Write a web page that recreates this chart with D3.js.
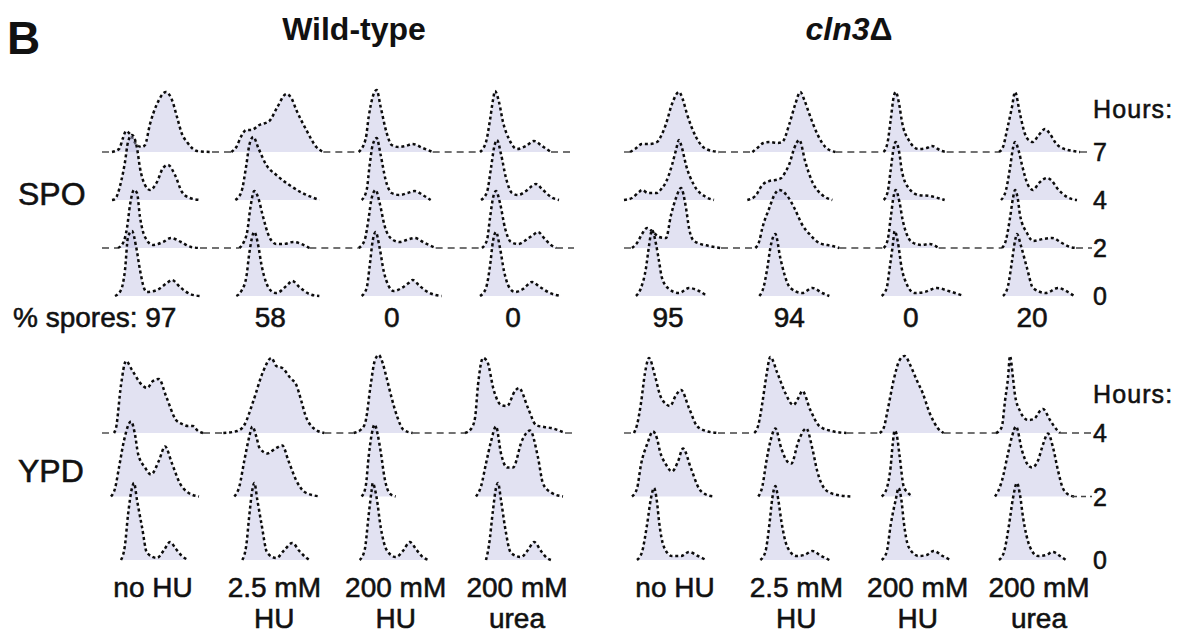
<!DOCTYPE html>
<html><head><meta charset="utf-8">
<script src="https://cdn.jsdelivr.net/npm/d3@7"></script>
<style>
html,body{margin:0;padding:0;background:#fff;}
svg text{font-family:"Liberation Sans",Arial,Helvetica,sans-serif;fill:#111;}
svg text.reg{stroke:#111;stroke-width:0.55px;}
</style></head>
<body>
<svg id="fig" width="1179" height="634"></svg>
<script>
// ---------------- data ----------------
const strains = ["Wild-type", "cln3Δ"];
const conditions = ["no HU", "2.5 mM HU", "200 mM HU", "200 mM urea"];
const conditionLines = [["no HU"], ["2.5 mM", "HU"], ["200 mM", "HU"], ["200 mM", "urea"]];
const spoHours = [7, 4, 2, 0];
const ypdHours = [4, 2, 0];
const sporesWT = [97, 58, 0, 0];
const sporesCln3 = [95, 94, 0, 20];

// histograms: [condition][hour row] -> [channel offset from 1C, cell count]
const spoWT = [
 [
  [[-20,0],[-13,3],[-9,14],[-6,21],[-2,18],[4,8],[10,5],[13,7],[18,28],[25,48],[34,60],[40,52],[45,35],[50,18],[55,10],[60,4],[65,1],[80,0]],
  [[-20,0],[-17,1],[-11,18],[-7,38],[-4,58],[0,65],[5,52],[8,32],[13,15],[18,10],[25,18],[31,32],[36,35],[43,25],[50,8],[58,2],[68,0]],
  [[-14,0],[-9,5],[-5,20],[-2,43],[2,58],[5,55],[8,31],[13,11],[21,3],[31,6],[39,10],[49,6],[59,1],[68,0]],
  [[-17,0],[-11,6],[-7,26],[-4,59],[0,65],[4,50],[8,26],[12,8],[15,4],[25,6],[35,13],[40,16],[48,9],[58,2],[68,0]]
 ],
 [
  [[-22,0],[-17,5],[-12,16],[-7,22],[-2,22],[6,27],[16,31],[24,45],[33,58],[38,54],[43,42],[53,22],[63,5],[70,0]],
  [[-18,0],[-12,8],[-7,35],[-4,55],[0,63],[5,52],[13,35],[23,25],[36,15],[49,7],[58,3],[66,0]],
  [[-14,0],[-10,5],[-6,17],[-3,40],[1,57],[5,50],[9,34],[16,11],[23,4],[30,4],[40,6],[48,4],[56,0]],
  [[-17,0],[-12,5],[-7,19],[-4,43],[1,64],[5,50],[8,32],[13,13],[18,5],[23,3],[33,10],[39,15],[46,9],[56,2],[66,0]]
 ],
 [
  [[-16,0],[-9,13],[-6,35],[-2,55],[2,62],[6,45],[12,19],[17,7],[24,5],[31,6],[38,8],[48,4],[58,0]],
  [[-13,0],[-8,10],[-5,35],[-2,55],[2,62],[6,45],[11,20],[17,7],[25,5],[33,7],[40,9],[48,5],[56,0]],
  [[-16,0],[-10,8],[-6,30],[-3,50],[1,58],[5,45],[10,22],[17,9],[25,6],[32,8],[40,10],[50,5],[61,0]],
  [[-13,0],[-8,8],[-5,30],[-2,55],[1,64],[5,48],[9,25],[14,10],[19,5],[27,8],[34,13],[38,16],[45,10],[55,3],[67,0]]
 ],
 [
  [[-16,0],[-10,10],[-6,32],[-3,52],[-1,61],[3,50],[7,30],[13,13],[21,3],[30,6],[38,11],[46,6],[55,0]],
  [[-15,0],[-9,8],[-5,32],[-2,52],[1,60],[5,46],[10,22],[16,7],[22,5],[30,9],[36,14],[40,16],[46,11],[55,3],[63,0]],
  [[-14,0],[-9,8],[-6,30],[-3,50],[0,57],[4,45],[9,20],[15,6],[22,4],[30,8],[37,13],[42,16],[48,10],[55,3],[60,0]],
  [[-16,0],[-10,8],[-6,30],[-3,55],[0,64],[4,48],[8,25],[13,9],[19,4],[27,7],[36,14],[44,9],[54,3],[65,0]]
 ]
];
const spoCln3 = [
 [
  [[-24,0],[-19,3],[-12,8],[-5,8],[3,10],[8,18],[12,28],[18,48],[25,60],[29,52],[33,38],[42,15],[52,3],[65,0]],
  [[-30,0],[-22,2],[-15,8],[-12,10],[-6,7],[3,7],[8,12],[12,18],[18,35],[22,50],[25,60],[28,52],[32,35],[40,15],[52,3],[60,0]],
  [[-22,0],[-17,5],[-12,14],[-7,20],[-2,17],[5,11],[12,10],[17,33],[22,50],[27,60],[32,40],[35,20],[40,7],[55,2],[67,0]],
  [[-18,0],[-13,8],[-8,28],[-5,50],[-2,66],[2,52],[5,35],[8,18],[15,7],[25,3],[35,8],[45,5],[53,0]]
 ],
 [
  [[-23,0],[-18,4],[-12,9],[-6,10],[2,9],[7,10],[14,28],[20,48],[25,60],[29,52],[34,38],[42,18],[50,5],[60,0]],
  [[-28,0],[-20,4],[-13,15],[-6,19],[0,20],[6,22],[10,28],[14,36],[19,52],[24,60],[30,38],[37,18],[47,5],[57,0]],
  [[-20,0],[-16,7],[-13,20],[-6,40],[-1,53],[4,58],[12,52],[19,40],[27,23],[35,13],[44,5],[57,2],[64,0]],
  [[-16,0],[-12,8],[-8,28],[-5,48],[0,62],[5,38],[9,22],[15,8],[27,3],[37,8],[47,3],[54,0]]
 ],
 [
  [[-13,0],[-9,10],[-6,32],[-3,55],[-1,60],[3,45],[5,32],[12,12],[22,3],[30,4],[35,6],[45,1],[50,0]],
  [[-13,0],[-9,8],[-6,30],[-3,52],[-1,58],[3,45],[5,30],[12,12],[22,5],[33,4],[48,0]],
  [[-13,0],[-9,8],[-6,30],[-3,52],[-1,58],[3,45],[6,28],[10,14],[15,6],[25,3],[33,4],[42,0]],
  [[-15,0],[-10,8],[-7,28],[-4,50],[-2,65],[1,55],[5,28],[10,12],[18,3],[28,4],[40,8],[52,5],[67,0]]
 ],
 [
  [[-19,0],[-15,5],[-11,22],[-6,45],[-3,60],[2,38],[7,18],[12,11],[15,10],[20,16],[27,23],[32,18],[37,10],[42,5],[55,1],[62,0]],
  [[-17,0],[-12,10],[-8,32],[-5,52],[-3,58],[1,48],[4,35],[10,15],[15,10],[21,17],[29,22],[34,19],[39,12],[49,3],[59,0]],
  [[-16,0],[-12,8],[-8,30],[-5,50],[-3,58],[0,48],[2,33],[9,15],[15,7],[25,9],[34,10],[44,5],[52,1],[58,0]],
  [[-15,0],[-10,10],[-6,35],[-3,55],[-1,62],[3,50],[9,28],[15,8],[28,3],[40,8],[50,4],[56,0]]
 ]
];
const ypdWT = [
 [
  [[-18,0],[-16,5],[-11,48],[-6,72],[0,63],[10,48],[15,45],[21,52],[27,54],[34,37],[44,13],[50,9],[56,7],[61,7],[66,2],[71,0]],
  [[-21,0],[-17,8],[-13,29],[-8,56],[-1,75],[3,62],[6,43],[13,29],[19,22],[27,36],[33,50],[40,33],[48,13],[56,4],[67,0]],
  [[-11,0],[-7,15],[-4,45],[0,72],[2,77],[5,60],[10,33],[15,7],[25,2],[32,10],[38,18],[44,11],[50,4],[56,0]]
 ],
 [
  [[-30,0],[-16,2],[-9,8],[0,32],[10,62],[18,75],[23,67],[29,65],[37,55],[43,48],[48,32],[52,18],[60,5],[71,0]],
  [[-19,0],[-14,10],[-9,36],[-4,60],[-1,70],[3,60],[6,49],[14,43],[22,48],[29,51],[35,36],[43,16],[52,4],[67,0]],
  [[-11,0],[-7,15],[-4,45],[-1,70],[1,77],[4,60],[8,37],[14,7],[23,2],[31,10],[39,17],[46,9],[52,3],[56,0]]
 ],
 [
  [[-21,0],[-13,4],[-9,12],[-4,48],[0,72],[4,78],[8,70],[12,55],[17,35],[23,15],[29,3],[38,0]],
  [[-13,0],[-9,10],[-6,40],[-3,62],[0,72],[3,62],[6,45],[10,18],[15,3],[21,0]],
  [[-15,0],[-10,10],[-6,45],[-3,70],[-2,77],[2,62],[6,33],[12,10],[21,3],[29,10],[35,18],[42,10],[48,3],[54,0]]
 ],
 [
  [[-31,0],[-25,4],[-21,15],[-18,48],[-13,75],[-9,72],[-2,42],[5,28],[11,27],[19,42],[23,45],[32,25],[40,8],[48,6],[55,5],[69,0]],
  [[-20,0],[-15,10],[-10,33],[-5,55],[0,70],[5,43],[11,29],[17,29],[26,56],[34,66],[42,39],[47,13],[55,4],[67,0]],
  [[-10,0],[-7,15],[-3,50],[0,72],[2,77],[5,60],[9,33],[15,7],[25,3],[32,10],[38,18],[45,9],[51,2],[55,0]]
 ]
];
const ypdCln3 = [
 [
  [[-20,0],[-17,8],[-13,30],[-9,60],[-5,75],[1,57],[6,38],[12,29],[16,27],[22,38],[27,43],[35,25],[43,7],[52,2],[64,0]],
  [[-22,0],[-17,8],[-13,32],[-7,52],[-1,65],[3,58],[6,45],[12,32],[18,25],[24,35],[29,48],[37,28],[45,8],[52,2],[60,0]],
  [[-17,0],[-12,8],[-7,35],[-3,62],[0,72],[3,58],[5,39],[10,13],[18,4],[27,4],[35,8],[44,4],[52,0]]
 ],
 [
  [[-21,0],[-17,8],[-13,30],[-9,57],[-5,76],[2,60],[10,40],[18,28],[23,35],[27,42],[35,23],[44,7],[56,2],[71,0]],
  [[-17,0],[-13,10],[-9,35],[-5,55],[0,68],[6,48],[12,35],[16,33],[23,55],[31,68],[37,48],[42,25],[50,7],[60,2],[75,0]],
  [[-15,0],[-10,8],[-6,35],[-3,62],[0,74],[3,60],[6,39],[12,13],[21,4],[29,5],[37,9],[46,4],[54,0]]
 ],
 [
  [[-17,0],[-13,5],[-9,23],[-3,53],[3,73],[8,77],[14,67],[20,53],[26,40],[33,20],[41,5],[47,0]],
  [[-15,0],[-10,8],[-6,30],[-4,52],[-2,66],[0,62],[3,40],[7,10],[11,4],[16,0]],
  [[-15,0],[-10,8],[-6,35],[-1,60],[2,72],[5,58],[7,39],[12,13],[22,4],[30,5],[37,9],[46,4],[54,0]]
 ],
 [
  [[-22,0],[-19,2],[-16,7],[-13,32],[-10,55],[-8,77],[-5,55],[-3,38],[2,22],[10,13],[16,14],[22,22],[25,24],[32,13],[39,3],[42,0]],
  [[-23,0],[-20,5],[-16,16],[-10,43],[-6,60],[-2,70],[4,46],[9,33],[14,29],[20,36],[25,52],[30,63],[35,49],[40,26],[45,8],[52,1],[56,0]],
  [[-19,0],[-14,8],[-9,35],[-5,62],[-1,77],[2,65],[5,43],[12,13],[20,4],[28,5],[35,8],[42,4],[48,0]]
 ]
];

// ---------------- layout ----------------
const svg = d3.select("#fig");

const colScale = d3.scalePoint().domain(conditions).range([0, 364]);
const strainScale = d3.scaleOrdinal().domain(strains).range([132, 654]);
const chan = d3.scaleLinear().domain([-40, 90]).range([-40, 90]);
const count = d3.scaleLinear().domain([0, 100]).range([0, 100]);
const spoY = d3.scalePoint().domain(spoHours).range([152, 296]);
const ypdY = d3.scalePoint().domain(ypdHours).range([433, 560]);
const axisX = 1093;

const blocks = [
  {hours: spoHours, y: spoY, data: [spoWT, spoCln3], guides: [7, 2], hoursY: 118},
  {hours: ypdHours, y: ypdY, data: [ypdWT, ypdCln3], guides: [4], hoursY: 403}
];

const gGuides = svg.append("g");
const gHist = svg.append("g");

function colX(si, ci) { return strainScale(strains[si]) + colScale(conditions[ci]); }

blocks.forEach(b => {
  b.hours.forEach((h, ri) => {
    const base = b.y(h);
    if (b.guides.includes(h)) {
      strains.forEach((s, si) => {
        let xs = [strainScale(s) - 30];
        conditions.forEach((c, ci) => {
          const pts = b.data[si][ci][ri];
          xs.push(colX(si, ci) + chan(pts[0][0]));
          xs.push(colX(si, ci) + chan(pts[pts.length - 1][0]));
        });
        xs.push(si === 0 ? colX(0, 3) + 78 : axisX - 1);
        for (let k = 0; k < xs.length; k += 2) {
          gGuides.append("line")
            .attr("x1", xs[k]).attr("x2", xs[k + 1])
            .attr("y1", base).attr("y2", base)
            .attr("stroke", "#444").attr("stroke-width", 1.4)
            .attr("stroke-dasharray", "7 5");
        }
      });
    }
    strains.forEach((s, si) => {
      conditions.forEach((c, ci) => {
        const x0 = colX(si, ci);
        const pts = b.data[si][ci][ri];
        const area = d3.area()
          .x(d => x0 + chan(d[0])).y0(base).y1(d => base - count(d[1]))
          .curve(d3.curveMonotoneX);
        const line = d3.line()
          .x(d => x0 + chan(d[0])).y(d => base - count(d[1]))
          .curve(d3.curveMonotoneX);
        gHist.append("path").attr("d", area(pts))
          .attr("fill", "#b9b9e0").attr("fill-opacity", 0.42);
        gHist.append("path").attr("d", line(pts))
          .attr("fill", "none").attr("stroke", "#0c0c0c")
          .attr("stroke-width", 2.5).attr("stroke-dasharray", "3 2.8");
      });
    });
  });
  svg.append("text").attr("class", "reg").attr("x", axisX).attr("y", b.hoursY)
    .attr("font-size", 25).attr("letter-spacing", 1.1).text("Hours:");
  b.hours.forEach(h => {
    svg.append("text").attr("class", "reg").attr("x", axisX).attr("y", b.y(h))
      .attr("dy", "0.36em").attr("font-size", 25).text(h);
  });
});
// short tick dashes at the YPD 2 h mark
svg.append("line").attr("x1", 1072).attr("x2", axisX - 1)
  .attr("y1", ypdY(2)).attr("y2", ypdY(2))
  .attr("stroke", "#444").attr("stroke-width", 1.4).attr("stroke-dasharray", "5 4");

// titles
svg.append("text").attr("x", 7).attr("y", 54).attr("font-size", 46)
  .attr("font-weight", "bold").text("B");
svg.append("text").attr("x", (colX(0,0) + colX(0,3)) / 2 + 40).attr("y", 40)
  .attr("text-anchor", "middle").attr("font-size", 32).attr("font-weight", "bold")
  .text(strains[0]);
const t2 = svg.append("text").attr("x", (colX(1,0) + colX(1,3)) / 2 + 13).attr("y", 40)
  .attr("text-anchor", "middle").attr("font-size", 32).attr("font-weight", "bold");
t2.append("tspan").attr("font-style", "italic").text("cln3");
t2.append("tspan").text("Δ");

// row labels
svg.append("text").attr("class", "reg").attr("x", 18).attr("y", 205).attr("font-size", 32).text("SPO");
svg.append("text").attr("class", "reg").attr("x", 18).attr("y", 482).attr("font-size", 32).text("YPD");

// % spores
svg.append("text").attr("class", "reg").attr("x", 13).attr("y", 327).attr("font-size", 28)
  .text("% spores: " + sporesWT[0]);
sporesWT.forEach((v, ci) => {
  if (ci === 0) return;
  svg.append("text").attr("class", "reg").attr("x", colX(0, ci) + 17).attr("y", 327)
    .attr("text-anchor", "middle").attr("font-size", 28).text(v);
});
sporesCln3.forEach((v, ci) => {
  svg.append("text").attr("class", "reg").attr("x", colX(1, ci) + 14).attr("y", 327)
    .attr("text-anchor", "middle").attr("font-size", 28).text(v);
});

// condition labels
strains.forEach((s, si) => {
  conditionLines.forEach((lines, ci) => {
    lines.forEach((ln, li) => {
      svg.append("text").attr("class", "reg").attr("x", colX(si, ci) + 21).attr("y", 597 + li * 31)
        .attr("text-anchor", "middle").attr("font-size", 28).text(ln);
    });
  });
});
</script>
</body></html>
